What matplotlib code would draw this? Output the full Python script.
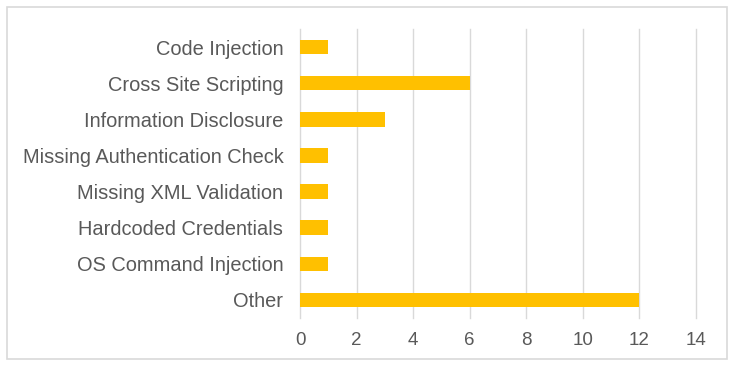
import matplotlib.pyplot as plt
from matplotlib.patches import Rectangle

# Chart data
categories = ["Code Injection", "Cross Site Scripting", "Information Disclosure",
              "Missing Authentication Check", "Missing XML Validation",
              "Hardcoded Credentials", "OS Command Injection", "Other"]
counts = [1, 6, 3, 1, 1, 1, 1, 12]
xticks = [0, 2, 4, 6, 8, 10, 12, 14]

plt.rcParams['font.family'] = ['Liberation Sans', 'DejaVu Sans']

fig = plt.figure(figsize=(7.36, 3.69), dpi=100)
ax = fig.add_axes([300 / 736, 1 - 318 / 369, 396 / 736, 289 / 369])

ypos = list(range(len(categories)))
ax.barh(ypos, counts, height=0.4, color="#FFC000", zorder=3)
ax.set_yticks(ypos)
ax.set_yticklabels(categories)
ax.set_ylim(len(categories) - 0.5, -0.5)

ax.set_xlim(0, 14)
ax.set_xticks(xticks)
ax.grid(axis="x", color="#D9D9D9", linewidth=1, zorder=0)
for line in ax.get_xgridlines():
    line.set_clip_on(False)
for s in ax.spines.values():
    s.set_visible(False)
ax.tick_params(axis="both", length=0, colors="#595959")
ax.tick_params(axis="y", pad=12, labelsize=14.4)
ax.tick_params(axis="x", pad=10, labelsize=13.5)

# outer border of the chart
fig.patches.append(Rectangle((7 / 736, 1 - 359 / 369), 720 / 736, 352 / 369,
                             transform=fig.transFigure, fill=False,
                             edgecolor="#D9D9D9", linewidth=1.2))

fig.savefig("out.png", dpi=100)
